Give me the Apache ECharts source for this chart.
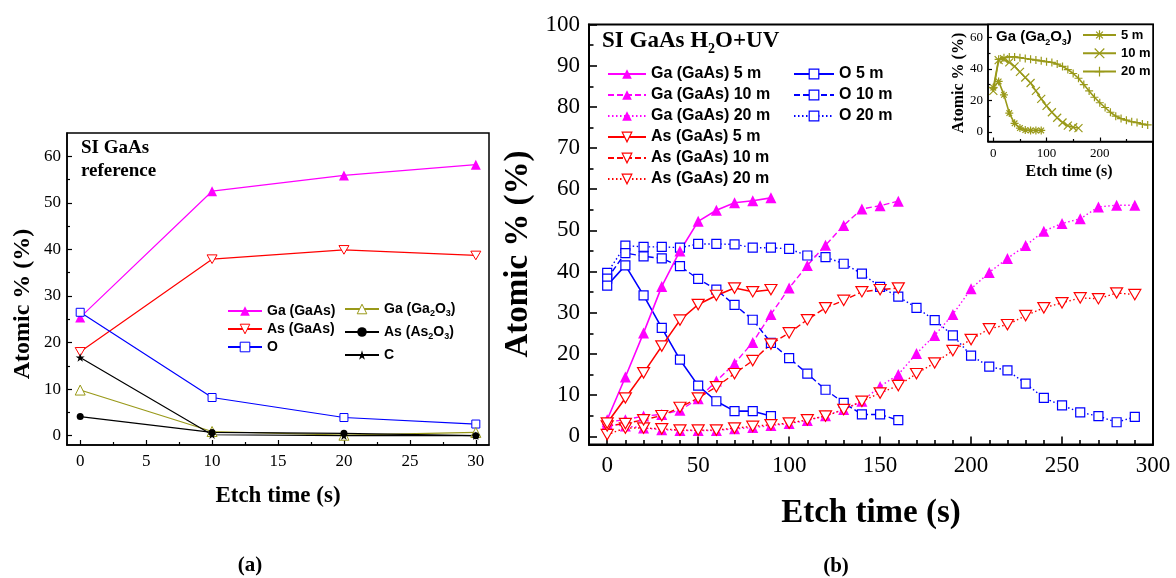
<!DOCTYPE html>
<html><head><meta charset="utf-8">
<script src="https://cdn.jsdelivr.net/npm/echarts@6/dist/echarts.min.js"></script>
<style>html,body{margin:0;padding:0;background:#fff}#c{width:1176px;height:578px}</style>
</head><body><div id="c"></div>
<script>
// ---------- Panel (a): SI GaAs reference ----------
const tA = [0, 10, 20, 30];
const aGaGaAs   = [25.4, 52.5, 55.9, 58.2];
const aAsGaAs   = [18.0, 37.9, 39.9, 38.7];
const aO        = [26.5, 8.2, 3.9, 2.5];
const aGaGa2O3  = [9.8, 0.9, 0.1, 0.7];
const aAsAs2O3  = [4.1, 0.7, 0.5, 0.0];
const aC        = [16.8, 0.2, 0.0, 0.0];

// ---------- Panel (b): SI GaAs H2O+UV ----------
const t5  = [0, 10, 20, 30, 40, 50, 60, 70, 80, 90];
const t10 = [0, 10, 20, 30, 40, 50, 60, 70, 80, 90, 100, 110, 120, 130, 140, 150, 160];
const t20 = [0, 10, 20, 30, 40, 50, 60, 70, 80, 90, 100, 110, 120, 130, 140, 150, 160, 170, 180, 190, 200, 210, 220, 230, 240, 250, 260, 270, 280, 290];

const ga5  = [4.0, 14.4, 25.1, 36.4, 45.0, 52.2, 54.9, 56.7, 57.2, 57.9];
const as5  = [3.2, 9.3, 15.4, 21.9, 28.2, 32.0, 34.2, 36.0, 35.1, 35.6];
const o5   = [36.6, 41.5, 34.2, 26.3, 18.6, 12.3, 8.5, 6.1, 6.1, 4.9];

const ga10 = [3.5, 4.0, 4.9, 5.3, 6.3, 9.1, 13.4, 17.7, 22.8, 29.6, 36.0, 41.5, 46.4, 51.2, 55.2, 56.0, 57.1];
const as10 = [2.5, 3.1, 4.0, 5.0, 7.0, 9.3, 12.0, 15.2, 18.4, 22.4, 25.1, 28.3, 31.2, 33.0, 35.1, 35.6, 36.0];
const o10  = [38.3, 44.5, 43.7, 43.2, 41.3, 38.2, 35.6, 31.9, 28.3, 22.7, 19.0, 15.2, 11.3, 8.1, 5.3, 5.3, 3.9];

const ga20 = [3.0, 2.5, 2.0, 1.6, 1.4, 1.4, 1.4, 1.8, 2.1, 2.6, 3.1, 3.8, 5.0, 6.5, 8.5, 12.1, 15.0, 20.1, 24.5, 29.6, 35.8, 39.8, 43.2, 46.3, 49.8, 51.7, 52.8, 55.7, 56.1, 56.1];
const as20 = [0.4, 2.0, 2.0, 1.8, 1.5, 1.5, 1.5, 2.0, 2.4, 2.8, 3.2, 4.0, 4.9, 6.5, 8.5, 10.5, 12.3, 15.2, 17.8, 20.8, 23.5, 26.1, 27.1, 29.3, 31.2, 32.4, 33.6, 33.4, 34.8, 34.4];
const o20  = [39.7, 46.3, 46.0, 46.0, 45.8, 46.7, 46.7, 46.6, 45.8, 45.8, 45.5, 43.9, 43.5, 41.9, 39.5, 36.3, 33.9, 31.2, 28.2, 24.5, 19.6, 16.9, 16.0, 12.8, 9.3, 7.5, 5.8, 4.9, 3.4, 4.7];

// ---------- Inset: Ga (Ga2O3) ----------
const gox5  = [28, 32, 23.5, 12, 5.5, 2.5, 1.2, 1.0, 1.0, 1.0];
const gox10 = [26, 45.5, 46, 44, 41.5, 38, 34.5, 31, 26, 21, 16.5, 12.5, 9, 6, 4, 3, 2.5];
const gox20 = [28, 46, 47, 47.5, 47.5, 47, 46.5, 46, 45.5, 45, 44.5, 44, 43, 41.5, 39.5, 37, 34, 30, 26, 22, 18.5, 15.5, 12.5, 10, 8.5, 7.5, 6.5, 6, 5, 4.5];

// ---------- tick labels ----------
const aXTicks = [0, 5, 10, 15, 20, 25, 30];
const aXMinor = [2.5, 7.5, 12.5, 17.5, 22.5, 27.5];
const aYTicks = [0, 10, 20, 30, 40, 50, 60];
const aYMinor = [5, 15, 25, 35, 45, 55];
const bXTicks = [0, 50, 100, 150, 200, 250, 300];
const bXMinor = [10, 20, 30, 40, 60, 70, 80, 90, 110, 120, 130, 140, 160, 170, 180, 190, 210, 220, 230, 240, 260, 270, 280, 290];
const bYTicks = [0, 10, 20, 30, 40, 50, 60, 70, 80, 90, 100];
const bYMinor = [5, 15, 25, 35, 45, 55, 65, 75, 85, 95];
const iXTicks = [0, 100, 200];
const iXMinor = [50, 150, 250];
const iYTicks = [0, 20, 40, 60];
const iYMinor = [10, 30, 50];

const MAG = '#ff00ff', RED = '#ff0000', BLUE = '#0000ff', OLIVE = '#999919', BLK = '#000000';
const DASH = [6, 3], DOT = [1.5, 2.5];
const SERIF = 'Liberation Serif', SANS = 'Liberation Sans';

const TRI_DOWN = 'path://M0,0 L20,0 L10,17.3 Z';
const STAR = 'path://M50,0 L61,35 L98,35 L68,57 L79,91 L50,70 L21,91 L32,57 L2,35 L39,35 Z';
const PLUS = 'path://M5,0 L5,10 M0,5 L10,5';
const CROSS = 'path://M0,0 L10,10 M10,0 L0,10';
const ASTER = 'path://M5,0 L5,10 M0,5 L10,5 M1.5,1.5 L8.5,8.5 M8.5,1.5 L1.5,8.5';

function pairs(xs, ys) { return xs.map((x, i) => [x, ys[i]]); }

function S(name, ax, xs, ys, color, type, symbol, size, fill, lw, bw) {
  return {
    name: name, type: 'line', xAxisIndex: ax, yAxisIndex: ax,
    data: pairs(xs, ys),
    symbol: symbol, symbolSize: size, symbolKeepAspect: true,
    lineStyle: { color: color, width: lw, type: type },
    itemStyle: { color: fill, borderColor: color, borderWidth: bw },
    emphasis: { disabled: true }, silent: true, z: 3
  };
}

const series = [
  // panel a
  S('Ga (GaAs)', 0, tA, aGaGaAs, MAG, 'solid', 'triangle', 10, MAG, 1.2, 0),
  S('As (GaAs)', 0, tA, aAsGaAs, RED, 'solid', TRI_DOWN, 10, '#fff', 1.2, 1),
  S('O', 0, tA, aO, BLUE, 'solid', 'rect', 8, '#fff', 1.2, 1),
  S('Ga (Ga2O3)', 0, tA, aGaGa2O3, OLIVE, 'solid', 'triangle', 10, '#fff', 1.2, 1),
  S('As (As2O3)', 0, tA, aAsAs2O3, BLK, 'solid', 'circle', 7, BLK, 1.2, 0),
  S('C', 0, tA, aC, BLK, 'solid', STAR, 9, BLK, 1.2, 0),
  // panel b
  S('O 20 m', 2, t20, o20, BLUE, DOT, 'rect', 9, '#fff', 1.4, 1.2),
  S('O 10 m', 2, t10, o10, BLUE, DASH, 'rect', 9, '#fff', 1.4, 1.2),
  S('O 5 m', 2, t5, o5, BLUE, 'solid', 'rect', 9, '#fff', 1.6, 1.2),
  S('Ga (GaAs) 20 m', 2, t20, ga20, MAG, DOT, 'triangle', 11, MAG, 1.4, 0),
  S('Ga (GaAs) 10 m', 2, t10, ga10, MAG, DASH, 'triangle', 11, MAG, 1.4, 0),
  S('Ga (GaAs) 5 m', 2, t5, ga5, MAG, 'solid', 'triangle', 11, MAG, 1.6, 0),
  S('As (GaAs) 20 m', 2, t20, as20, RED, DOT, TRI_DOWN, 12, '#fff', 1.4, 1.2),
  S('As (GaAs) 10 m', 2, t10, as10, RED, DASH, TRI_DOWN, 12, '#fff', 1.4, 1.2),
  S('As (GaAs) 5 m', 2, t5, as5, RED, 'solid', TRI_DOWN, 12, '#fff', 1.6, 1.2),
  // inset
  S('5 m', 4, t5, gox5, OLIVE, 'solid', ASTER, 8, 'rgba(0,0,0,0)', 1.6, 1.2),
  S('10 m', 4, t10, gox10, OLIVE, 'solid', CROSS, 8, 'rgba(0,0,0,0)', 1.6, 1.2),
  S('20 m', 4, t20, gox20, OLIVE, 'solid', PLUS, 8, 'rgba(0,0,0,0)', 1.6, 1.2)
];

function axisPair(dim, grid, min, max, major, minor, lab, majLen, minLen, fs, margin, lw) {
  const base = {
    type: 'value', gridIndex: grid, min: min, max: max,
    splitLine: { show: false }, position: dim === 'x' ? 'bottom' : 'left'
  };
  const a1 = Object.assign({}, base, {
    axisLine: { show: true, onZero: false, lineStyle: { color: BLK, width: lw } },
    axisTick: { show: true, inside: true, length: majLen, customValues: major, lineStyle: { color: BLK, width: lw * 0.8 } },
    axisLabel: { show: true, customValues: lab, color: BLK, fontFamily: SERIF, fontSize: fs, margin: margin }
  });
  const a2 = Object.assign({}, base, {
    axisLine: { show: false, onZero: false },
    axisTick: { show: true, inside: true, length: minLen, customValues: minor, lineStyle: { color: BLK, width: lw * 0.8 } },
    axisLabel: { show: false }
  });
  return [a1, a2];
}

const xAxes = [].concat(
  axisPair('x', 0, -1, 31, aXTicks, aXMinor, aXTicks, 5, 3, 17, 8, 1.5),
  axisPair('x', 1, -10, 300, bXTicks, bXMinor, bXTicks, 8, 4.5, 23, 10, 2),
  axisPair('x', 2, -10, 300, iXTicks, iXMinor, iXTicks, 4, 2.5, 13, 6, 1.5)
);
const yAxes = [].concat(
  axisPair('y', 0, -2, 65, aYTicks, aYMinor, aYTicks, 5, 3, 17, 6, 1.5),
  axisPair('y', 1, -2, 100, bYTicks, bYMinor, bYTicks, 8, 4.5, 23, 9, 2),
  axisPair('y', 2, -6, 68, iYTicks, iYMinor, iYTicks, 4, 2.5, 13, 5, 1.5)
);

const subRich = {
  a: { fontFamily: SANS, fontWeight: 'bold', fontSize: 14, lineHeight: 18, verticalAlign: 'middle', color: BLK },
  s: { fontFamily: SANS, fontWeight: 'bold', fontSize: 9, lineHeight: 9, verticalAlign: 'bottom', color: BLK }
};
function subFmt(name) {
  if (name === 'Ga (Ga2O3)') return '{a|Ga (Ga}{s|2}{a|O}{s|3}{a|)}';
  if (name === 'As (As2O3)') return '{a|As (As}{s|2}{a|O}{s|3}{a|)}';
  return '{a|' + name + '}';
}

function legendBox(data, left, top, w, fs, lh, gap, extra) {
  return Object.assign({
    data: data, left: left, top: top, orient: 'vertical',
    itemWidth: w, itemHeight: 12, itemGap: gap, selectedMode: false,
    textStyle: { fontFamily: SANS, fontWeight: 'bold', fontSize: fs, lineHeight: lh, color: BLK },
    itemStyle: { borderWidth: 'inherit' },
    padding: 0
  }, extra || {});
}

const option = {
  animation: false,
  backgroundColor: '#ffffff',
  grid: [
    { left: 67, top: 133, width: 422, height: 312, show: true, borderColor: BLK, borderWidth: 1.5, backgroundColor: 'transparent' },
    { left: 589, top: 24.5, width: 564, height: 420, show: true, borderColor: BLK, borderWidth: 2, backgroundColor: 'transparent' },
    { left: 988, top: 24.5, width: 165, height: 117, show: true, borderColor: BLK, borderWidth: 1.5, backgroundColor: '#ffffff' }
  ],
  xAxis: xAxes,
  yAxis: yAxes,
  legend: [
    legendBox(['Ga (GaAs)', 'As (GaAs)', 'O'], 227, 303, 34, 14, 16, 2),
    legendBox(['Ga (Ga2O3)', 'As (As2O3)', 'C'], 344, 302, 34, 14, 18, 7,
      { formatter: subFmt, textStyle: { rich: subRich } }),
    legendBox(['Ga (GaAs) 5 m', 'Ga (GaAs) 10 m', 'Ga (GaAs) 20 m', 'As (GaAs) 5 m', 'As (GaAs) 10 m', 'As (GaAs) 20 m'],
      607, 65, 38, 16, 18, 3),
    legendBox(['O 5 m', 'O 10 m', 'O 20 m'], 793, 65, 40, 16, 18, 3),
    legendBox(['5 m', '10 m', '20 m'], 1082, 27, 33, 13, 16, 2.3)
  ],
  series: series,
  graphic: [
    { type: 'text', left: 81, top: 139, style: { text: 'SI GaAs', font: 'bold 19px "Liberation Serif"', fill: BLK } },
    { type: 'text', left: 81, top: 162, style: { text: 'reference', font: 'bold 19px "Liberation Serif"', fill: BLK } },
    { type: 'text', x: 278, y: 496, style: { text: 'Etch time (s)', font: 'bold 23px "Liberation Serif"', fill: BLK, align: 'center', verticalAlign: 'middle' } },
    { type: 'text', x: 23, y: 304, rotation: Math.PI / 2, style: { text: 'Atomic % (%)', font: 'bold 24px "Liberation Serif"', fill: BLK, align: 'center', verticalAlign: 'middle' } },
    { type: 'text', x: 250, y: 566, style: { text: '(a)', font: 'bold 21px "Liberation Serif"', fill: BLK, align: 'center', verticalAlign: 'middle' } },
    { type: 'text', x: 836, y: 567, style: { text: '(b)', font: 'bold 21px "Liberation Serif"', fill: BLK, align: 'center', verticalAlign: 'middle' } },
    { type: 'text', x: 871, y: 513, style: { text: 'Etch time (s)', font: 'bold 33px "Liberation Serif"', fill: BLK, align: 'center', verticalAlign: 'middle' } },
    { type: 'text', x: 518, y: 254, rotation: Math.PI / 2, style: { text: 'Atomic % (%)', font: 'bold 33px "Liberation Serif"', fill: BLK, align: 'center', verticalAlign: 'middle' } },
    { type: 'text', x: 602, y: 41, style: {
        text: '{a|SI GaAs H}{s|2}{a|O+UV}', verticalAlign: 'middle',
        rich: {
          a: { fontFamily: SERIF, fontWeight: 'bold', fontSize: 23, lineHeight: 30, verticalAlign: 'middle', fill: BLK },
          s: { fontFamily: SERIF, fontWeight: 'bold', fontSize: 14, lineHeight: 10, verticalAlign: 'bottom', fill: BLK }
        } } },
    { type: 'text', x: 996, y: 37, z: 10, style: {
        text: '{a|Ga (Ga}{s|2}{a|O}{s|3}{a|)}', verticalAlign: 'middle',
        rich: {
          a: { fontFamily: SANS, fontWeight: 'bold', fontSize: 15, lineHeight: 20, verticalAlign: 'middle', fill: BLK },
          s: { fontFamily: SANS, fontWeight: 'bold', fontSize: 9, lineHeight: 8, verticalAlign: 'bottom', fill: BLK }
        } } },
    { type: 'text', x: 1069, y: 172, style: { text: 'Etch time (s)', font: 'bold 16px "Liberation Serif"', fill: BLK, align: 'center', verticalAlign: 'middle' } },
    { type: 'text', x: 959, y: 83, rotation: Math.PI / 2, style: { text: 'Atomic % (%)', font: 'bold 16px "Liberation Serif"', fill: BLK, align: 'center', verticalAlign: 'middle' } }
  ]
};

const chart = echarts.init(document.getElementById('c'), null, { renderer: 'canvas', width: 1176, height: 578 });
chart.setOption(option);
</script>
</body></html>
